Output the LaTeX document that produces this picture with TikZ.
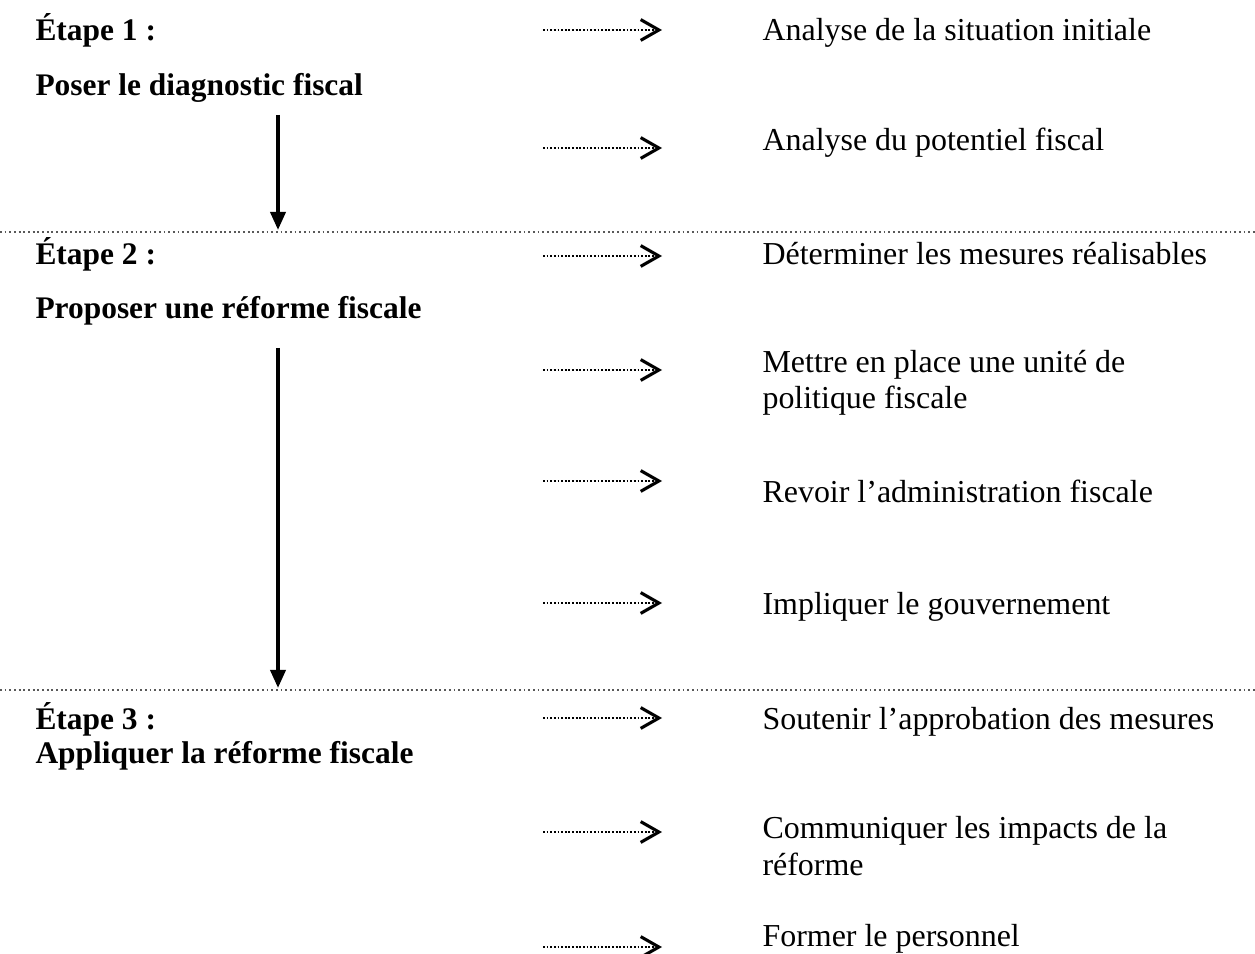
\documentclass[tikz,border=0pt]{standalone}
\usepackage{fontspec}
\setmainfont{Liberation Serif}
\usetikzlibrary{arrows.meta}

\tikzset{
  txt/.style={anchor=base west, inner sep=0pt, align=left,
    font=\fontsize{12.3}{14}\selectfont},
  etape/.style={txt, font=\fontsize{12.1}{14}\selectfont\bfseries},
  petite/.style={line width=0.9pt, dash pattern=on 0.7pt off 0.7pt,
    -{Straight Barb[length=7pt,width=8pt,line width=1.2pt]}},
  grande/.style={line width=1.5pt, -{Triangle[length=7pt,width=5.8pt]}},
  separe/.style={black!65, line width=0.6pt, dash pattern=on 0.7pt off 1.1pt}
}

\begin{document}
\begin{tikzpicture}[x=0.385pt, y=-0.385pt]

\newcommand\XG{35}
\newcommand\XA{543}
\newcommand\XB{662}
\newcommand\XT{762}

\useasboundingbox (0,0) rectangle (1255,954);

%% etapes
\node[etape] (e1)  at (\XG, 41)  {Étape 1 :};
\node[etape] (e1t) at (\XG, 96)  {Poser le diagnostic fiscal};
\node[etape] (e2)  at (\XG, 265) {Étape 2 :};
\node[etape] (e2t) at (\XG, 319) {Proposer une réforme fiscale};
\node[etape] (e3)  at (\XG, 729) {Étape 3 :};
\node[etape] (e3t) at (\XG, 763) {Appliquer la réforme fiscale};

%% separations
\coordinate (s1a) at (0, 232);
\coordinate (s1b) at (1255, 232);
\coordinate (s2a) at (0, 690);
\coordinate (s2b) at (1255, 690);
\draw[separe] (s1a) -- (s1b);
\draw[separe] (s2a) -- (s2b);

%% grandes fleches
\coordinate (g1a) at (278, 115);
\coordinate (g1b) at (278, 230);
\coordinate (g2a) at (278, 348);
\coordinate (g2b) at (278, 688);
\draw[grande] (g1a) -- (g1b);
\draw[grande] (g2a) -- (g2b);

%% actions (base = derniere ligne)
\node[txt] (a1) at (\XT, 41)  {Analyse de la situation initiale};
\node[txt] (a2) at (\XT, 151) {Analyse du potentiel fiscal};
\node[txt] (a3) at (\XT, 265) {Déterminer les mesures réalisables};
\node[txt] (a4) at (\XT, 409) {Mettre en place une unité de\\politique fiscale};
\node[txt] (a5) at (\XT, 502) {Revoir l’administration fiscale};
\node[txt] (a6) at (\XT, 614) {Impliquer le gouvernement};
\node[txt] (a7) at (\XT, 729) {Soutenir l’approbation des mesures};
\node[txt] (a8) at (\XT, 875) {Communiquer les impacts de la\\réforme};
\node[txt] (a9) at (\XT, 946) {Former le personnel};

%% petites fleches
\foreach \i/\y in {1/30, 2/148, 3/256, 4/370, 5/481, 6/603, 7/718, 8/832, 9/947} {
  \coordinate (p\i a) at (\XA, \y);
  \coordinate (p\i b) at (\XB, \y);
  \draw[petite] (p\i a) -- (p\i b);
}

\end{tikzpicture}
\end{document}
